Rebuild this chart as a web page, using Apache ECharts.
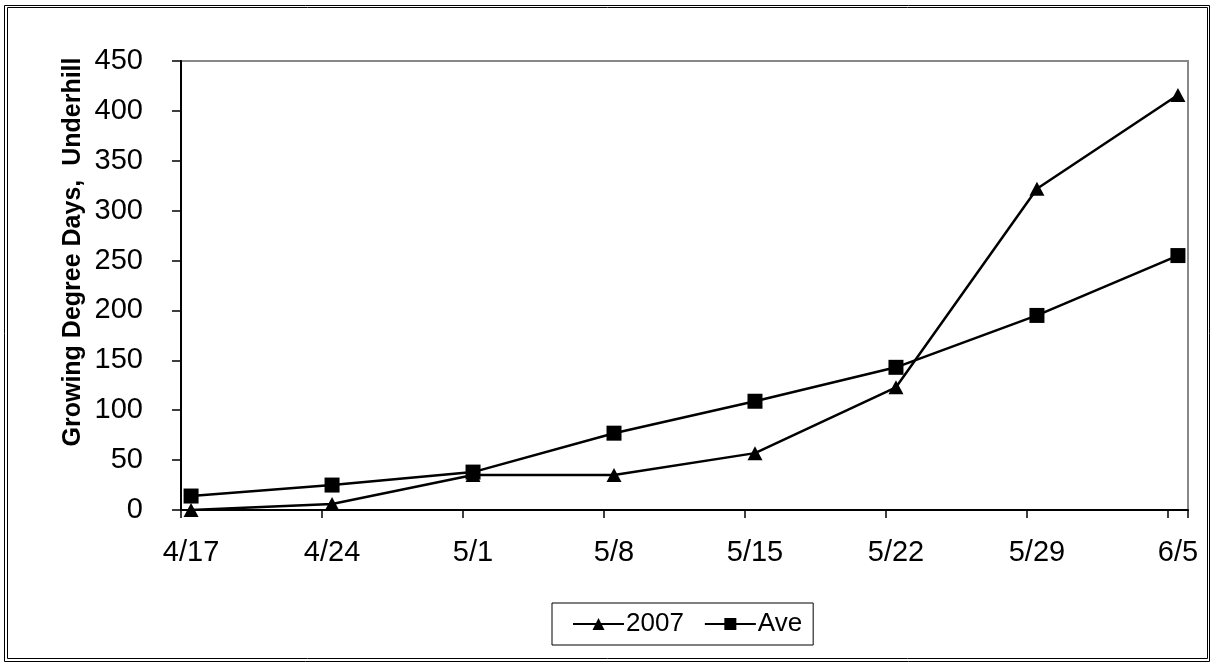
<!DOCTYPE html>
<html>
<head>
<meta charset="utf-8">
<script src="https://cdn.jsdelivr.net/npm/echarts@6/dist/echarts.min.js"></script>
<style>
  html, body { margin: 0; padding: 0; background: #fff; }
  #chart { width: 1214px; height: 667px; }
</style>
</head>
<body>
<div id="chart"></div>
<script>
// Weekly sampling dates (2007 season) and cumulative growing degree days
const weekLabels = ['4/17', '4/24', '5/1', '5/8', '5/15', '5/22', '5/29', '6/5'];
const gdd2007 = [0, 6, 35, 35, 57, 123, 322, 416];
const gddAve = [14, 25, 38, 77, 109, 143, 195, 255];
const yTicks = { min: 0, max: 450, step: 50 };

// The x axis is a daily date axis: one category per day, a label every 7 days
const startDate = new Date(2007, 3, 17);
const dayCount = (weekLabels.length - 1) * 7 + 1;
const dayLabels = [];
for (let i = 0; i < dayCount; i++) {
  const d = new Date(startDate.getFullYear(), startDate.getMonth(), startDate.getDate() + i);
  dayLabels.push((d.getMonth() + 1) + '/' + d.getDate());
}
const weekly = (idx) => idx % 7 === 0;
const toPairs = (vals) => vals.map((v, i) => [weekLabels[i], v]);

const font = 'Liberation Sans, Arial, sans-serif';
const chart = echarts.init(document.getElementById('chart'), null, { renderer: 'canvas' });

chart.setOption({
  animation: false,
  backgroundColor: '#fff',
  grid: {
    left: 181, top: 61, right: 26, bottom: 157,
    show: true, borderColor: '#888', borderWidth: 2, backgroundColor: '#fff'
  },
  xAxis: {
    type: 'category',
    data: dayLabels,
    boundaryGap: true,
    axisLine: { lineStyle: { color: '#000', width: 2 } },
    axisTick: { show: true, interval: weekly, length: 8, lineStyle: { color: '#000', width: 1.5 } },
    axisLabel: { interval: weekly, fontFamily: font, fontSize: 29, color: '#000', margin: 28 },
    splitLine: { show: false }
  },
  yAxis: {
    type: 'value',
    min: yTicks.min, max: yTicks.max, interval: yTicks.step,
    axisLine: { show: true, lineStyle: { color: '#000', width: 2 } },
    axisTick: { show: true, length: 9, lineStyle: { color: '#000', width: 1.5 } },
    axisLabel: { fontFamily: font, fontSize: 29, color: '#000', margin: 38 },
    splitLine: { show: false }
  },
  legend: {
    left: 552, top: 603,
    padding: [8, 11, 8, 20],
    itemGap: 20, itemWidth: 51, itemHeight: 15,
    borderColor: '#000', borderWidth: 1,
    textStyle: { fontFamily: font, fontSize: 26, color: '#000', padding: [0, 0, 0, -3] },
    data: ['2007', 'Ave']
  },
  series: [
    {
      name: 'Ave', type: 'line', data: toPairs(gddAve),
      symbol: 'rect', symbolSize: 15,
      lineStyle: { color: '#000', width: 2.5 },
      itemStyle: { color: '#000' }
    },
    {
      name: '2007', type: 'line', data: toPairs(gdd2007),
      symbol: 'triangle', symbolSize: [15, 14],
      lineStyle: { color: '#000', width: 2.5 },
      itemStyle: { color: '#000' }
    }
  ],
  graphic: [
    {
      type: 'text',
      x: 73, y: 252, rotation: Math.PI / 2,
      style: {
        text: 'Growing Degree Days,  Underhill',
        font: 'bold 25px ' + font,
        fill: '#000', align: 'center', verticalAlign: 'middle'
      }
    },
    { type: 'rect', shape: { x: 4.5, y: 5.5, width: 1205, height: 656 }, style: { fill: null, stroke: '#000', lineWidth: 1 }, silent: true },
    { type: 'rect', shape: { x: 7.5, y: 7.5, width: 1200, height: 651 }, style: { fill: null, stroke: '#000', lineWidth: 1 }, silent: true }
  ]
});
</script>
</body>
</html>
